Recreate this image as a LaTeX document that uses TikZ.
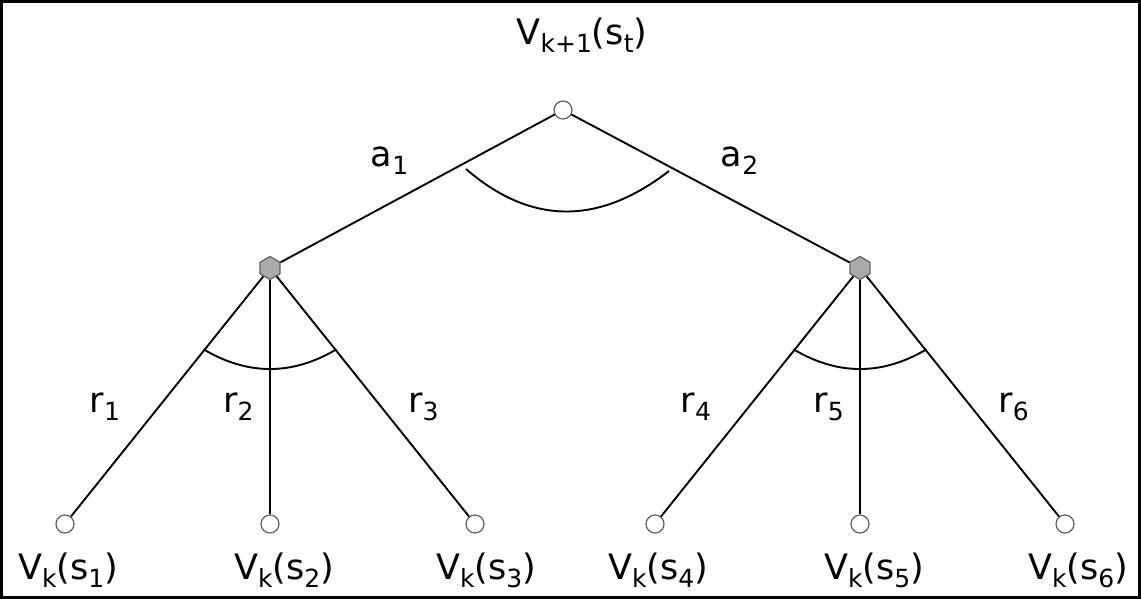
\documentclass[tikz,border=0pt]{standalone}
\usepackage{fontspec}
\setmainfont{DejaVu Sans}
\usetikzlibrary{shapes.geometric,positioning}
\definecolor{hexgray}{RGB}{170,170,170}
\definecolor{rimgray}{RGB}{95,95,95}
\newcommand{\lo}[1]{\raisebox{-4pt}{\fontsize{12.5}{14}\selectfont #1}}

\begin{document}
\begin{tikzpicture}[
      x=0.5pt, y=0.5pt,
      state/.style={circle, draw=rimgray, fill=white, line width=0.6pt, minimum size=9pt, inner sep=0pt},
      chance/.style={regular polygon, regular polygon sides=6, shape border rotate=30, draw=rimgray, fill=hexgray, line width=0.6pt, minimum size=11.5pt, inner sep=0pt},
      edge/.style={line width=0.95pt, draw=black},
      lbl/.style={anchor=base, inner sep=0pt, font=\fontsize{17.5}{21}\selectfont}
    ]
      \useasboundingbox (0,0) rectangle (1141,599);
      \draw[line width=1.5pt] (1.5,1.5) rectangle (1139.5,597.5);
      % tree nodes
      \node[state] (root) at (563,489) {};
      \node[chance] (c1) at (270,331) {};
      \node[chance] (c2) at (860,331) {};
      \foreach \x [count=\i] in {65,270,475,655,860,1065}
        \node[state] (s\i) at (\x,75) {};
      % branches
      \draw[edge] (root) -- (c1);
      \draw[edge] (root) -- (c2);
      \foreach \i in {1,2,3} \draw[edge] (c1) -- (s\i);
      \foreach \i in {4,5,6} \draw[edge] (c2) -- (s\i);
      % arcs
      \coordinate (arcl) at (466,430);
      \coordinate (arcr) at (669,428);
      \draw[edge] (arcl) .. controls (530.7,374) and (598.3,373.3) .. (arcr);
      \foreach \h in {c1,c2}
        \draw[edge, shift={(\h.center)}] (-66.5,-81.3) .. controls (-22.2,-107.6) and (22.2,-107.6) .. (66.5,-81.3);
      % labels
      \node[lbl] (vtop) at (582,554) {V\lo{k+1}(s\lo{t})};
      \foreach \x/\i in {68/1,284/2,486/3,658/4,874/5,1078/6}
        \node[lbl] (v\i) at (\x,19) {V\lo{k}(s\lo{\i})};
      \node[lbl] (a1) at (389.5,432) {a\lo{1}};
      \node[lbl] (a2) at (739.5,432) {a\lo{2}};
      \foreach \x/\i in {105/1,238.5/2,423.5/3,696/4,828.5/5,1013.5/6}
        \node[lbl] (r\i) at (\x,186) {r\lo{\i}};
    \end{tikzpicture}
\end{document}
